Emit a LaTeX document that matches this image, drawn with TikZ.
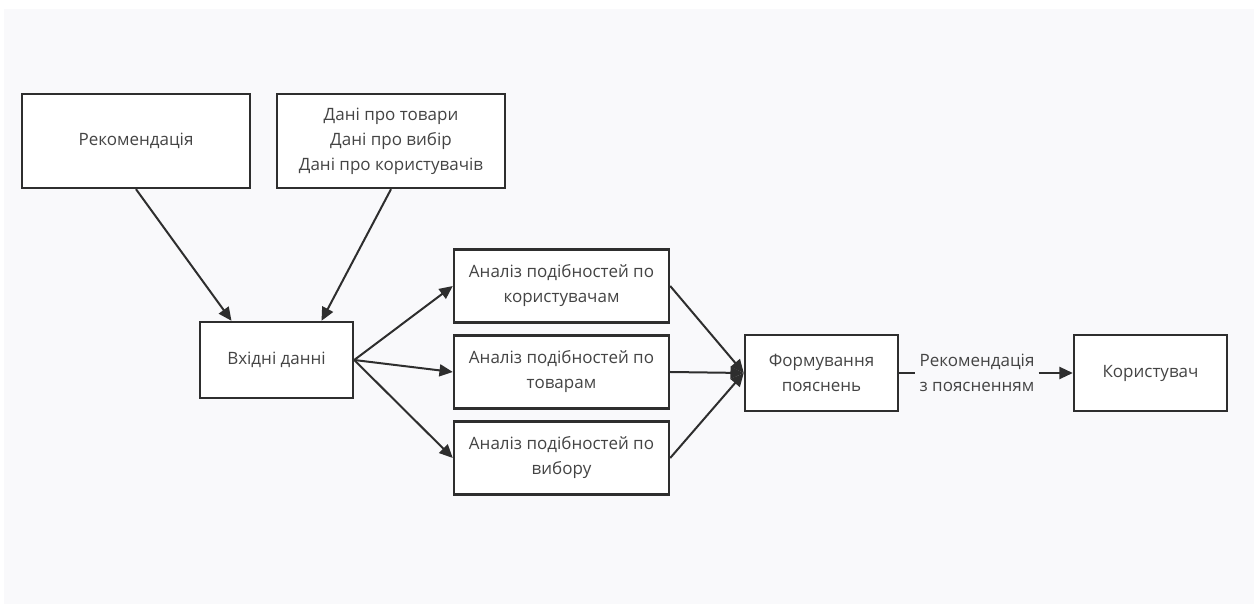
\documentclass[tikz,border=0pt]{standalone}
\usepackage{fontspec}
\setmainfont{Open Sans}
\usetikzlibrary{arrows.meta}
\usetikzlibrary{positioning}
\definecolor{linegray}{HTML}{2E2E2E}
\definecolor{textgray}{HTML}{444444}
\definecolor{canvas}{HTML}{F9F9FB}
\tikzset{
  block/.style={draw=linegray, line width=1.8pt, fill=white, text=textgray,
    align=center, inner sep=0pt, font=\fontsize{12.75}{18.75}\selectfont},
  bigblock/.style={block, minimum width=171pt, minimum height=70.5pt},
  smallblock/.style={block, minimum width=114.75pt, minimum height=57pt},
  wideblock/.style={block, minimum width=161.25pt, minimum height=54.75pt},
  edgelabel/.style={text=textgray, align=center, inner sep=3pt,
    font=\fontsize{12.75}{18.75}\selectfont}
}

\begin{document}
\begin{tikzpicture}[x=0.75pt, y=-0.75pt,
      >={Triangle[length=10pt,width=9pt]},
      connector/.style={->, draw=linegray, line width=1.5pt},
      on grid]

    \fill[canvas] (4,9) rectangle (1254,604);
    \useasboundingbox (0,0) rectangle (1258,605);

    \node[bigblock]
      (Rec) at (136,141) {Рекомендація};
    \node[bigblock]
      (Data) [right=191.25pt of Rec] {Дані про товари\\Дані про вибір\\Дані про користувачів};
    \node[smallblock]
      (Input) [below right=164.25pt and 105.375pt of Rec] {Вхідні данні};
    \node[wideblock]
      (ByUsers) [above right=55.5pt and 213.75pt of Input] {Аналіз подібностей по\\користувачам};
    \node[wideblock]
      (ByGoods) [below=64.5pt of ByUsers] {Аналіз подібностей по\\товарам};
    \node[wideblock]
      (ByChoice) [below=64.5pt of ByGoods] {Аналіз подібностей по\\вибору};
    \node[smallblock]
      (Explain) [below right=0.75pt and 195pt of ByGoods] {Формування\\пояснень};
    \node[edgelabel]
      (Result) [right=116.625pt of Explain] {Рекомендація\\з поясненням};
    \node[smallblock]
      (User) [right=246.75pt of Explain] {Користувач};

    \draw[connector] (Rec.south) -- ([xshift=-33.75pt]Input.north);
    \draw[connector] (Data.south) -- ([xshift=33.75pt]Input.north);
    \draw[connector] (Input.east) -- (ByUsers.west);
    \draw[connector] (Input.east) -- (ByGoods.west);
    \draw[connector] (Input.east) -- (ByChoice.west);
    \draw[connector] (ByUsers.east) -- (Explain.west);
    \draw[connector] (ByGoods.east) -- (Explain.west);
    \draw[connector] (ByChoice.east) -- (Explain.west);
    \draw[connector, -] (Explain.east) -- (Result.west);
    \draw[connector] (Result.east) -- (User.west);

  \end{tikzpicture}
\end{document}
